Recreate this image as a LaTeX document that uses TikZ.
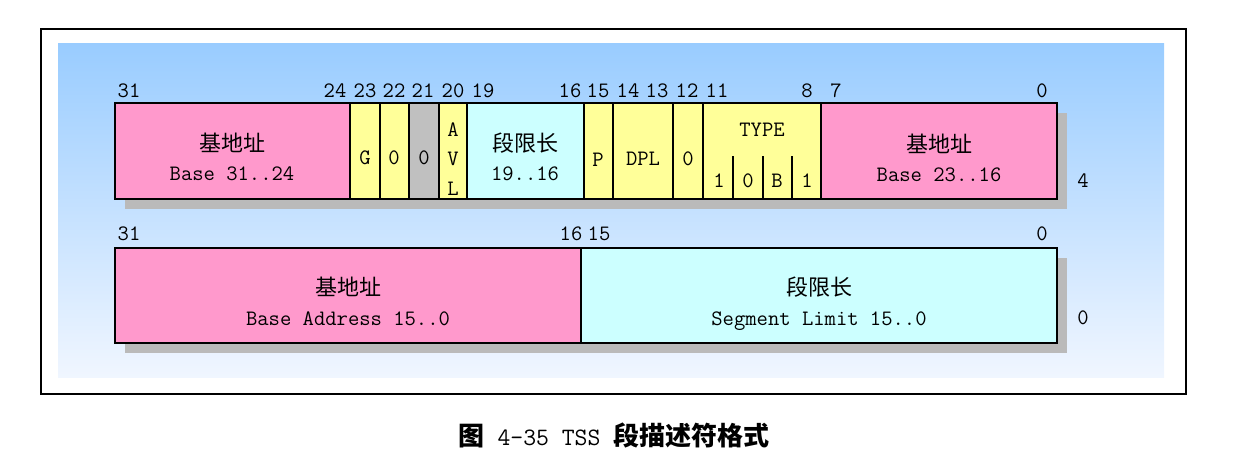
\documentclass[tikz,border=0pt]{standalone}
\usepackage{fontspec}
\newfontfamily\cjk{Noto Sans CJK SC}

\definecolor{pinkfield}{RGB}{255,153,204}
\definecolor{yellowfield}{RGB}{255,255,153}
\definecolor{cyanfield}{RGB}{204,255,255}
\definecolor{grayfield}{RGB}{192,192,192}
\definecolor{bgtop}{RGB}{153,204,255}
\definecolor{bgbottom}{RGB}{240,246,255}

\tikzset{
	field/.style={draw=black, line width=2.2pt},
	shadow/.style={fill=black!27},
	latin/.style={inner sep=0pt, font=\ttfamily\fontsize{22}{26}\selectfont, text height=13pt, text depth=0pt},
	hanzi/.style={inner sep=0pt, font=\cjk\fontsize{22}{26}\selectfont},
	caption/.style={inner sep=0pt, font=\ttfamily\fontsize{25}{30}\selectfont}
}

\begin{document}
\begin{tikzpicture}[x=1pt, y=-1pt]

		\useasboundingbox (0,0) rectangle (1257,456);

		\shade[top color=bgtop, bottom color=bgbottom] (58,43) rectangle (1164,377); %Sfondo
		\draw[line width=2.5pt] (41,29) rectangle (1186,394); %Cornice

		\fill[shadow] (125,113) rectangle (1067,209); %Ombra 4
		\fill[shadow] (125,258) rectangle (1067,353); %Ombra 0

		% byte 4..7
		\draw[field, fill=pinkfield] (115,103) rectangle (350,199);
		\draw[field, fill=yellowfield] (350,103) rectangle (380,199);
		\draw[field, fill=yellowfield] (380,103) rectangle (409,199);
		\draw[field, fill=grayfield] (409,103) rectangle (439,199);
		\draw[field, fill=yellowfield] (439,103) rectangle (467,199);
		\draw[field, fill=cyanfield] (467,103) rectangle (584,199);
		\draw[field, fill=yellowfield] (584,103) rectangle (613,199);
		\draw[field, fill=yellowfield] (613,103) rectangle (673,199);
		\draw[field, fill=yellowfield] (673,103) rectangle (703,199);
		\draw[field, fill=yellowfield] (703,103) rectangle (821,199);
		\draw[field, fill=pinkfield] (821,103) rectangle (1057,199);
		\draw[field] (733,156) -- (733,199);
		\draw[field] (763,156) -- (763,199);
		\draw[field] (792,156) -- (792,199);

		% byte 0..3
		\draw[field, fill=pinkfield] (115,248) rectangle (581,343);
		\draw[field, fill=cyanfield] (581,248) rectangle (1057,343);

		\node[latin] (b31) at (129,91) {31};
		\node[latin] (b24) at (335,91) {24};
		\node[latin] (b23) at (365,91) {23};
		\node[latin] (b22) at (394,91) {22};
		\node[latin] (b21) at (423,91) {21};
		\node[latin] (b20) at (453,91) {20};
		\node[latin] (b19) at (483,91) {19};
		\node[latin] (b16) at (570,91) {16};
		\node[latin] (b15) at (598,91) {15};
		\node[latin] (b14) at (628,91) {14};
		\node[latin] (b13) at (657,91) {13};
		\node[latin] (b12) at (687,91) {12};
		\node[latin] (b11) at (717,91) {11};
		\node[latin] (b8) at (807,91) {8};
		\node[latin] (b7) at (836,91) {7};
		\node[latin] (b0) at (1042,91) {0};

		\node[hanzi] (basehi) at (232,143) {基地址};
		\node[latin] (basehien) at (232,174) {Base 31..24};
		\node[latin] (gran) at (365,158) {G};
		\node[latin] (zeroa) at (394,158) {0};
		\node[latin] (zerob) at (424,158) {0};
		\node[latin] (avla) at (453,130) {A};
		\node[latin] (avlv) at (453,159) {V};
		\node[latin] (avll) at (453,189) {L};
		\node[hanzi] (limhi) at (525,143) {段限长};
		\node[latin] (limhien) at (525,174) {19..16};
		\node[latin] (pres) at (598,160) {P};
		\node[latin] (dpl) at (643,159) {DPL};
		\node[latin] (zeroc) at (688,159) {0};
		\node[latin] (type) at (762,130) {TYPE};
		\node[latin] (typea) at (719,181) {1};
		\node[latin] (typeb) at (748,181) {0};
		\node[latin] (typec) at (777,181) {B};
		\node[latin] (typed) at (807,181) {1};
		\node[hanzi] (basemid) at (939,144) {基地址};
		\node[latin] (basemiden) at (939,175) {Base 23..16};
		\node[latin] (off4) at (1083,181) {4}; %Offset

		\node[latin] (c31) at (129,234) {31};
		\node[latin] (c16) at (571,234) {16};
		\node[latin] (c15) at (599,234) {15};
		\node[latin] (c0) at (1042,234) {0};

		\node[hanzi] (baselo) at (348,287) {基地址};
		\node[latin] (baseloen) at (348,319) {Base Address 15..0};
		\node[hanzi] (limlo) at (819,287) {段限长};
		\node[latin] (limloen) at (819,319) {Segment Limit 15..0};
		\node[latin] (off0) at (1083,318) {0}; %Offset

		\node[caption] (title) at (614,435) {{\cjk\bfseries\fontsize{26}{30}\selectfont 图} 4-35 TSS {\cjk\bfseries\fontsize{26}{30}\selectfont 段描述符格式}};

	\end{tikzpicture}
\end{document}
